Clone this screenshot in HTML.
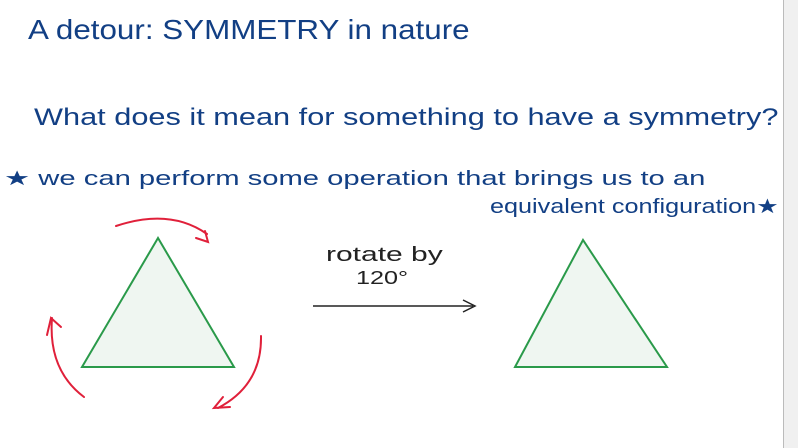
<!DOCTYPE html>
<html><head><style>
body{margin:0;width:798px;height:448px;overflow:hidden;background:#fff;position:relative;font-family:"Liberation Sans",sans-serif;}
.r{position:absolute;left:783px;top:0;width:15px;height:448px;background:#f0f0f0;border-left:1px solid #bbb;}
.t{position:absolute;color:#123f84;white-space:nowrap;transform-origin:0 0;}
</style></head><body>
<div class="r"></div>
<div class="t" style="left:28px;top:14px;font-size:28px;transform:scaleX(1.12);">A detour: SYMMETRY in nature</div>
<div class="t" style="left:34px;top:104px;font-size:24px;transform:scaleX(1.28);">What does it mean for something to have a symmetry?</div>
<div class="t" style="left:4px;top:166px;font-size:20px;transform:scaleX(1.46);">★ we can perform some operation that brings us to an</div>
<div class="t" style="left:490px;top:194px;font-size:20px;transform:scaleX(1.26);">equivalent configuration★</div>
<div class="t" style="left:326px;top:244px;font-size:20px;color:#222;transform:scaleX(1.5);">rotate by</div>
<div class="t" style="left:356px;top:268px;font-size:18px;color:#222;transform:scaleX(1.4);">120°</div>
<svg width="798" height="448" style="position:absolute;left:0;top:0">
<polygon points="158,238 82,367 234,367" fill="#eff6f1" stroke="#2a9a4a" stroke-width="2"/>
<polygon points="583,240 515,367 667,367" fill="#eff6f1" stroke="#2a9a4a" stroke-width="2"/>
<line x1="313" y1="306" x2="473" y2="306" stroke="#222" stroke-width="1.5"/>
<polyline points="463,300 475,306 463,312" fill="none" stroke="#222" stroke-width="1.5"/>
<g fill="none" stroke="#e0203a" stroke-width="2" stroke-linecap="round">
<path d="M116,226 Q170,208 207,234"/><path d="M196,238 L208,242 L205,231"/>
<path d="M84,397 Q48,370 52,318"/><path d="M47,335 L51,318 L61,327"/>
<path d="M261,336 Q262,385 218,408"/><path d="M223,397 L214,408 L230,407"/>
</g>
</svg>
</body></html>
